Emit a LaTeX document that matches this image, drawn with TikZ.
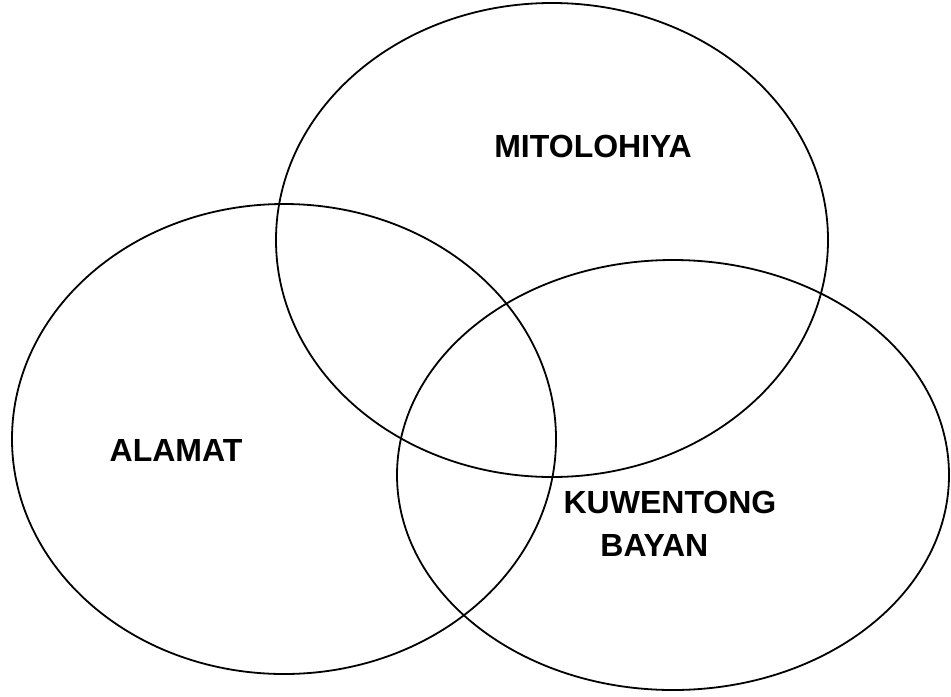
\documentclass[tikz,border=0pt]{standalone}
\usepackage{fontspec}
\setmainfont{Liberation Sans}
\usetikzlibrary{positioning}
\tikzset{
  ring/.style={draw=black, line width=0.9pt},
  setlabel/.style={font=\fontsize{16}{21}\selectfont\bfseries, inner sep=0pt, anchor=base},
}

\begin{document}
\begin{tikzpicture}[x=0.5pt, y=-0.5pt]
  \useasboundingbox (0,0) rectangle (951,696);

  % the three sets
  \draw[ring] (552,240) ellipse [x radius=276, y radius=237];
  \draw[ring] (284,439) ellipse [x radius=272, y radius=235];
  \draw[ring] (673,475) ellipse [x radius=276, y radius=215];

  % set names
  \node[setlabel] (mito) at (593,157) {MITOLOHIYA};
  \node[setlabel] (alamat) at (176,461) {ALAMAT};
  \node[setlabel] (kuwento) at (670,513) {KUWENTONG};
  \node[setlabel, anchor=base west] (bayan) at (600,556) {BAYAN};
\end{tikzpicture}
\end{document}
